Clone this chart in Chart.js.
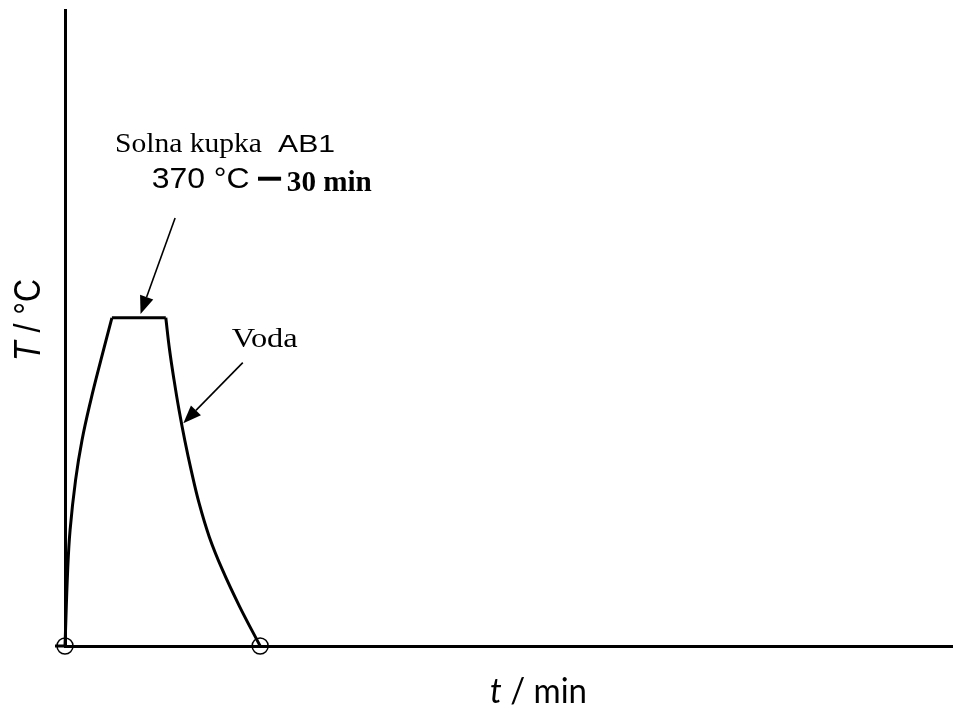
<!DOCTYPE html>
<html><head><meta charset="utf-8">
<script src="https://cdn.jsdelivr.net/npm/chart.js@4/dist/chart.umd.min.js"></script>
<style>html,body{margin:0;padding:0;background:#fff}canvas{display:block}</style>
</head><body>
<canvas id="c" width="953" height="708"></canvas>
<script>
// ---- data (t in min, T in °C) ----
const heatTime = [0, 1.5, 2.85, 5.9, 9.5, 14.4, 20.0, 26.2];
const heatTemp = [0, 86, 131, 187, 232, 277, 322, 370];
const holdTime = [26.2, 56.3];
const holdTemp = [370, 370];
const coolTime = [56.3, 58.4, 60.9, 63.7, 66.9, 70.5, 74.9, 80.6, 87.9, 97.4, 109.0];
const coolTemp = [370, 334, 300, 266, 232, 198, 161, 123, 86, 45, 0];
const markTime = [0, 109.0];
const markTemp = [0, 0];
const xTitle = ['t', ' / min'];
const yTitle = ['T', ' / °C'];
const bathLabel = ['Solna kupka', 'AB1'];
const holdLabel = ['370 °C', '30 min'];
const quenchLabel = 'Voda';

const pts = (xs, ys) => xs.map((v, i) => ({x: v, y: ys[i]}));

const SERIF = '"Liberation Serif", "Times New Roman", serif';
const SANS = '"Liberation Sans", Arial, sans-serif';

function drawParts(ctx, parts, x, y, width) {
  let total = 0;
  parts.forEach(p => { ctx.font = p.font; p.w = ctx.measureText(p.text).width; total += p.w; });
  const s = width ? width / total : 1;
  ctx.save();
  ctx.translate(x, y);
  ctx.scale(s, 1);
  let cx = 0;
  parts.forEach(p => { ctx.font = p.font; ctx.fillText(p.text, cx, 0); cx += p.w; });
  ctx.restore();
}
function arrow(ctx, x1, y1, x2, y2) {
  const a = Math.atan2(y2 - y1, x2 - x1), L = 18, H = 7;
  const bx = x2 - L * Math.cos(a), by = y2 - L * Math.sin(a);
  ctx.beginPath(); ctx.moveTo(x1, y1); ctx.lineTo(bx, by); ctx.lineWidth = 1.6; ctx.stroke();
  ctx.beginPath(); ctx.moveTo(x2, y2);
  ctx.lineTo(bx + H * Math.sin(a), by - H * Math.cos(a));
  ctx.lineTo(bx - H * Math.sin(a), by + H * Math.cos(a));
  ctx.closePath(); ctx.fill();
}

const annot = {
  id: 'annot',
  beforeDatasetsDraw(chart) {
    const {ctx, scales: {x, y}} = chart;
    ctx.save();
    ctx.strokeStyle = '#000'; ctx.lineWidth = 3;
    ctx.beginPath();
    ctx.moveTo(x.getPixelForValue(0) - 10, y.getPixelForValue(0));
    ctx.lineTo(x.getPixelForValue(0), y.getPixelForValue(0));
    ctx.stroke();
    ctx.restore();
  },
  afterDraw(chart) {
    const {ctx, scales: {x, y}} = chart;
    const X = v => x.getPixelForValue(v), Y = v => y.getPixelForValue(v);
    ctx.save();
    ctx.fillStyle = '#000'; ctx.strokeStyle = '#000';
    ctx.textAlign = 'left'; ctx.textBaseline = 'alphabetic';
    drawParts(ctx, [{text: bathLabel[0], font: '28px ' + SERIF}], X(27.9), Y(557.3), 147);
    drawParts(ctx, [{text: bathLabel[1], font: '23px ' + SANS}], X(119.0), Y(557.3), 57);
    drawParts(ctx, [{text: holdLabel[0], font: '30px ' + SANS}], X(48.4), Y(516.0), 98);
    drawParts(ctx, [{text: holdLabel[1], font: 'bold 30px ' + SERIF}], X(123.9), Y(513.3), 85);
    drawParts(ctx, [{text: quenchLabel, font: '27px ' + SERIF}], X(93.1), Y(337.4), 66);
    ctx.beginPath(); ctx.lineWidth = 4;
    ctx.moveTo(X(107.8), Y(526.8)); ctx.lineTo(X(120.7), Y(526.8)); ctx.stroke();
    arrow(ctx, X(61.5), Y(482.5), X(42.2), Y(374.3));
    arrow(ctx, X(99.3), Y(319.4), X(66.1), Y(251.1));
    drawParts(ctx, [{text: xTitle[0], font: 'italic 34px Lato, ' + SANS}, {text: xTitle[1], font: '34px Lato, ' + SANS}], 490, 703, 97);
    ctx.save();
    ctx.translate(40, 361);
    ctx.rotate(-Math.PI / 2);
    drawParts(ctx, [{text: yTitle[0], font: 'italic 36px ' + SANS}, {text: yTitle[1], font: '36px ' + SANS}], 0, 0, 82);
    ctx.restore();
    ctx.restore();
  }
};

const lineStyle = {borderColor: '#000', borderWidth: 3, pointRadius: 0, showLine: true, fill: false, clip: false};

new Chart(document.getElementById('c'), {
  type: 'scatter',
  data: {
    datasets: [
      Object.assign({label: 'heat', data: pts(heatTime, heatTemp), tension: 0.4}, lineStyle),
      Object.assign({label: 'hold', data: pts(holdTime, holdTemp), tension: 0}, lineStyle),
      Object.assign({label: 'cool', data: pts(coolTime, coolTemp), tension: 0.4}, lineStyle),
      {label: 'marks', data: pts(markTime, markTemp), showLine: false, pointRadius: 8, clip: false,
       pointBorderWidth: 1.5, pointBorderColor: '#000', pointBackgroundColor: 'rgba(0,0,0,0)'}
    ]
  },
  options: {
    responsive: false,
    animation: false,
    events: [],
    layout: {autoPadding: false, padding: {left: 65, right: 0, top: 10, bottom: 62}},
    plugins: {legend: {display: false}, tooltip: {enabled: false}},
    scales: {
      x: {
        type: 'linear', min: 0, max: 496, position: 'bottom',
        grid: {display: false, drawTicks: false},
        border: {display: true, color: '#000', width: 3},
        ticks: {display: false}
      },
      y: {
        type: 'linear', min: 0, max: 717, position: 'left',
        grid: {display: false, drawTicks: false},
        border: {display: true, color: '#000', width: 3},
        ticks: {display: false}
      }
    }
  },
  plugins: [annot]
});
</script>
</body></html>
